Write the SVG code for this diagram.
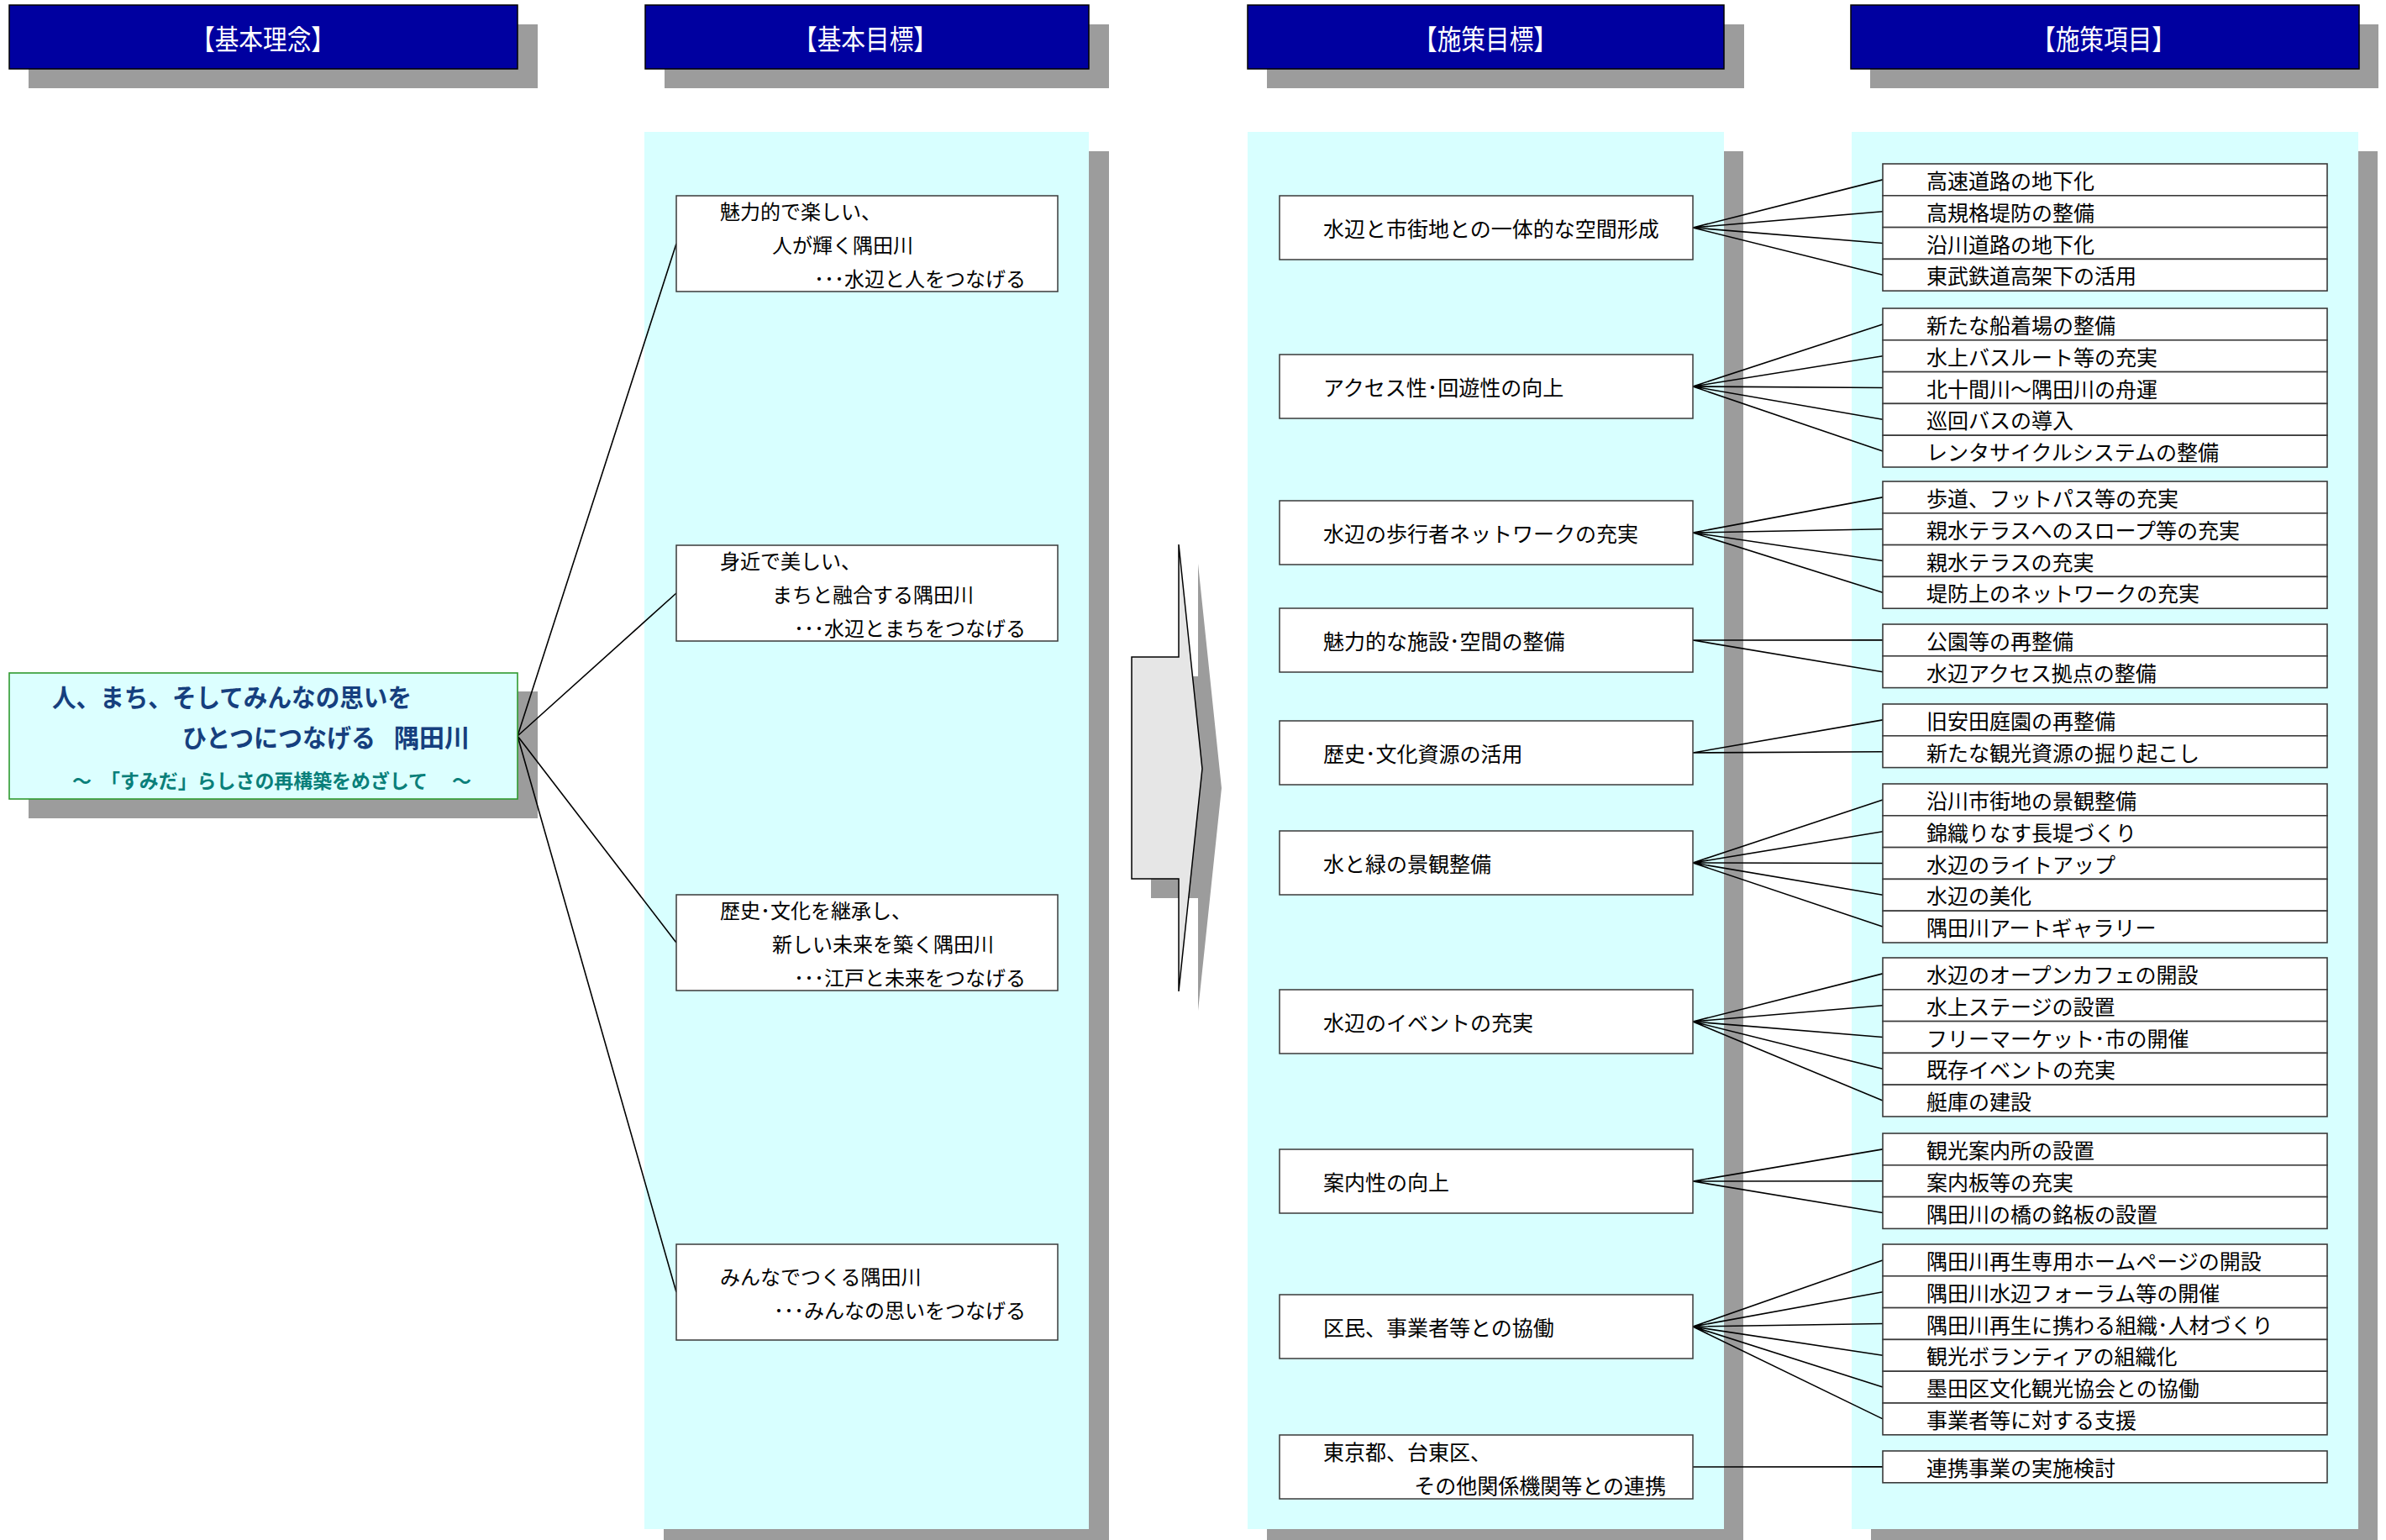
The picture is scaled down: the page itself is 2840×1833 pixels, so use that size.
<svg xmlns="http://www.w3.org/2000/svg" width="2840" height="1833" viewBox="0 0 2840 1833">
  <style>
    .shd { fill: #9c9c9c; }
    .panel { fill: #d8ffff; }
    .hdr { fill: #0000a0; stroke: #000; stroke-width: 1.5; }
    .box { fill: #fff; stroke: #3a3a3a; stroke-width: 1.5; }
    .row { fill: #fff; stroke: #3a3a3a; stroke-width: 1.6; }
    .link { stroke: #000; stroke-width: 1.6; fill: none; }
    .t { font-family: "Noto Sans CJK JP", "Noto Sans", sans-serif; font-size: 25px; fill: #000; dominant-baseline: central; }
    .g { font-size: 24px; }
    .ht { fill: #fff; font-size: 33px; text-anchor: middle; }
    .end { text-anchor: end; }
    .main { font-weight: bold; font-size: 30px; fill: #163f7e; }
    .sub { font-weight: bold; font-size: 23px; fill: #0a7f7a; }
  </style>

  <!-- drop shadows -->
  <g id="shadows">
    <rect class="shd" x="34" y="29" width="606" height="76"/>
    <rect class="shd" x="791" y="29" width="529" height="76"/>
    <rect class="shd" x="1508" y="29" width="568" height="76"/>
    <rect class="shd" x="2226" y="29" width="605" height="76"/>
    <rect class="shd" x="790" y="180" width="530" height="1653"/>
    <rect class="shd" x="1508" y="180" width="567" height="1653"/>
    <rect class="shd" x="2227" y="180" width="603" height="1653"/>
    <rect class="shd" x="34" y="823" width="606" height="151"/>
    <polygon class="shd" transform="translate(23,23)" points="1347,782 1403,782 1403,648 1431,915 1403,1180 1403,1046 1347,1046"/>
  </g>

  <!-- column panels -->
  <g id="panels">
    <rect class="panel" x="767" y="157" width="529" height="1663"/>
    <rect class="panel" x="1485" y="157" width="567" height="1663"/>
    <rect class="panel" x="2204" y="157" width="603" height="1663"/>
  </g>

  <!-- column headings -->
  <g id="header-rinen">
    <rect class="hdr" x="11" y="6" width="605" height="76"/>
    <text class="t ht" x="313" y="45" textLength="172" lengthAdjust="spacingAndGlyphs">【基本理念】</text>
  </g>
  <g id="header-mokuhyo">
    <rect class="hdr" x="768" y="6" width="528" height="76"/>
    <text class="t ht" x="1030" y="45" textLength="172" lengthAdjust="spacingAndGlyphs">【基本目標】</text>
  </g>
  <g id="header-shisaku-mokuhyo">
    <rect class="hdr" x="1485" y="6" width="567" height="76"/>
    <text class="t ht" x="1768" y="45" textLength="172" lengthAdjust="spacingAndGlyphs">【施策目標】</text>
  </g>
  <g id="header-shisaku-komoku">
    <rect class="hdr" x="2203" y="6" width="605" height="76"/>
    <text class="t ht" x="2504" y="45" textLength="172" lengthAdjust="spacingAndGlyphs">【施策項目】</text>
  </g>

  <!-- big transition arrow -->
  <g id="arrow">
    <polygon points="1347,782 1403,782 1403,648 1431,915 1403,1180 1403,1046 1347,1046" fill="#e6e6e6" stroke="#000" stroke-width="1.5"/>
  </g>

  <!-- connectors -->
  <g id="connectors" class="link">
    <path d="M616,876 L805,290 M616,876 L805,706 M616,876 L805,1122 M616,876 L805,1538"/>
    <path d="M2015,271 L2241,213.9 M2015,271 L2241,251.7 M2015,271 L2241,289.5 M2015,271 L2241,327.3"/>
    <path d="M2015,460 L2241,385.9 M2015,460 L2241,423.7 M2015,460 L2241,461.5 M2015,460 L2241,499.3 M2015,460 L2241,537.1"/>
    <path d="M2015,634 L2241,591.9 M2015,634 L2241,629.7 M2015,634 L2241,667.5 M2015,634 L2241,705.3"/>
    <path d="M2015,762 L2241,761.9 M2015,762 L2241,799.7"/>
    <path d="M2015,896 L2241,856.9 M2015,896 L2241,894.7"/>
    <path d="M2015,1027 L2241,951.9 M2015,1027 L2241,989.7 M2015,1027 L2241,1027.5 M2015,1027 L2241,1065.3 M2015,1027 L2241,1103.1"/>
    <path d="M2015,1216 L2241,1158.9 M2015,1216 L2241,1196.7 M2015,1216 L2241,1234.5 M2015,1216 L2241,1272.3 M2015,1216 L2241,1310.1"/>
    <path d="M2015,1406 L2241,1367.9 M2015,1406 L2241,1405.7 M2015,1406 L2241,1443.5"/>
    <path d="M2015,1579 L2241,1499.9 M2015,1579 L2241,1537.7 M2015,1579 L2241,1575.5 M2015,1579 L2241,1613.3 M2015,1579 L2241,1651.1 M2015,1579 L2241,1688.9"/>
    <path d="M2015,1746 L2241,1745.9"/>
  </g>

  <!-- basic philosophy -->
  <g id="rinen">
    <rect x="11" y="801" width="605" height="150" fill="#dcffff" stroke="#2f9a2f" stroke-width="1.6"/>
    <text class="t main" x="62" y="828" textLength="428" lengthAdjust="spacingAndGlyphs">人、まち、そしてみんなの思いを</text>
    <text class="t main" x="217" y="876" textLength="230" lengthAdjust="spacingAndGlyphs">ひとつにつなげる</text>
    <text class="t main" x="469" y="876">隅田川</text>
    <text class="t sub" x="86" y="928" font-size="20">～</text>
    <text class="t sub" x="120" y="928" textLength="389" lengthAdjust="spacingAndGlyphs">「すみだ」らしさの再構築をめざして</text>
    <text class="t sub" x="538" y="928" font-size="20">～</text>
  </g>

  <!-- basic goals -->
  <g id="goal-1">
    <rect class="box" x="805" y="233" width="454" height="114"/>
    <text class="t g" x="857" y="250">魅力的で楽しい、</text>
    <text class="t g" x="919" y="290">人が輝く隅田川</text>
    <text class="t g end" x="1221" y="330">･･･水辺と人をつなげる</text>
  </g>
  <g id="goal-2">
    <rect class="box" x="805" y="649" width="454" height="114"/>
    <text class="t g" x="857" y="666">身近で美しい、</text>
    <text class="t g" x="919" y="706">まちと融合する隅田川</text>
    <text class="t g end" x="1221" y="746">･･･水辺とまちをつなげる</text>
  </g>
  <g id="goal-3">
    <rect class="box" x="805" y="1065" width="454" height="114"/>
    <text class="t g" x="857" y="1082">歴史･文化を継承し、</text>
    <text class="t g" x="919" y="1122">新しい未来を築く隅田川</text>
    <text class="t g end" x="1221" y="1162">･･･江戸と未来をつなげる</text>
  </g>
  <g id="goal-4">
    <rect class="box" x="805" y="1481" width="454" height="114"/>
    <text class="t g" x="857" y="1518">みんなでつくる隅田川</text>
    <text class="t g end" x="1221" y="1558">･･･みんなの思いをつなげる</text>
  </g>

  <!-- policy targets -->
  <g id="target-1"><rect class="box" x="1523" y="233" width="492" height="76"/><text class="t" x="1575" y="271">水辺と市街地との一体的な空間形成</text></g>
  <g id="target-2"><rect class="box" x="1523" y="422" width="492" height="76"/><text class="t" x="1575" y="460">アクセス性･回遊性の向上</text></g>
  <g id="target-3"><rect class="box" x="1523" y="596" width="492" height="76"/><text class="t" x="1575" y="634">水辺の歩行者ネットワークの充実</text></g>
  <g id="target-4"><rect class="box" x="1523" y="724" width="492" height="76"/><text class="t" x="1575" y="762">魅力的な施設･空間の整備</text></g>
  <g id="target-5"><rect class="box" x="1523" y="858" width="492" height="76"/><text class="t" x="1575" y="896">歴史･文化資源の活用</text></g>
  <g id="target-6"><rect class="box" x="1523" y="989" width="492" height="76"/><text class="t" x="1575" y="1027">水と緑の景観整備</text></g>
  <g id="target-7"><rect class="box" x="1523" y="1178" width="492" height="76"/><text class="t" x="1575" y="1216">水辺のイベントの充実</text></g>
  <g id="target-8"><rect class="box" x="1523" y="1368" width="492" height="76"/><text class="t" x="1575" y="1406">案内性の向上</text></g>
  <g id="target-9"><rect class="box" x="1523" y="1541" width="492" height="76"/><text class="t" x="1575" y="1579">区民、事業者等との協働</text></g>
  <g id="target-10">
    <rect class="box" x="1523" y="1708" width="492" height="76"/>
    <text class="t" x="1575" y="1727">東京都、台東区、</text>
    <text class="t end" x="1983" y="1767">その他関係機関等との連携</text>
  </g>

  <!-- policy items -->
  <g id="items-1">
    <rect class="row" x="2241" y="195" width="529" height="37.8"/><text class="t" x="2293" y="213.9">高速道路の地下化</text>
    <rect class="row" x="2241" y="232.8" width="529" height="37.8"/><text class="t" x="2293" y="251.7">高規格堤防の整備</text>
    <rect class="row" x="2241" y="270.6" width="529" height="37.8"/><text class="t" x="2293" y="289.5">沿川道路の地下化</text>
    <rect class="row" x="2241" y="308.4" width="529" height="37.8"/><text class="t" x="2293" y="327.3">東武鉄道高架下の活用</text>
  </g>
  <g id="items-2">
    <rect class="row" x="2241" y="367" width="529" height="37.8"/><text class="t" x="2293" y="385.9">新たな船着場の整備</text>
    <rect class="row" x="2241" y="404.8" width="529" height="37.8"/><text class="t" x="2293" y="423.7">水上バスルート等の充実</text>
    <rect class="row" x="2241" y="442.6" width="529" height="37.8"/><text class="t" x="2293" y="461.5">北十間川～隅田川の舟運</text>
    <rect class="row" x="2241" y="480.4" width="529" height="37.8"/><text class="t" x="2293" y="499.3">巡回バスの導入</text>
    <rect class="row" x="2241" y="518.2" width="529" height="37.8"/><text class="t" x="2293" y="537.1">レンタサイクルシステムの整備</text>
  </g>
  <g id="items-3">
    <rect class="row" x="2241" y="573" width="529" height="37.8"/><text class="t" x="2293" y="591.9">歩道、フットパス等の充実</text>
    <rect class="row" x="2241" y="610.8" width="529" height="37.8"/><text class="t" x="2293" y="629.7">親水テラスへのスロープ等の充実</text>
    <rect class="row" x="2241" y="648.6" width="529" height="37.8"/><text class="t" x="2293" y="667.5">親水テラスの充実</text>
    <rect class="row" x="2241" y="686.4" width="529" height="37.8"/><text class="t" x="2293" y="705.3">堤防上のネットワークの充実</text>
  </g>
  <g id="items-4">
    <rect class="row" x="2241" y="743" width="529" height="37.8"/><text class="t" x="2293" y="761.9">公園等の再整備</text>
    <rect class="row" x="2241" y="780.8" width="529" height="37.8"/><text class="t" x="2293" y="799.7">水辺アクセス拠点の整備</text>
  </g>
  <g id="items-5">
    <rect class="row" x="2241" y="838" width="529" height="37.8"/><text class="t" x="2293" y="856.9">旧安田庭園の再整備</text>
    <rect class="row" x="2241" y="875.8" width="529" height="37.8"/><text class="t" x="2293" y="894.7">新たな観光資源の掘り起こし</text>
  </g>
  <g id="items-6">
    <rect class="row" x="2241" y="933" width="529" height="37.8"/><text class="t" x="2293" y="951.9">沿川市街地の景観整備</text>
    <rect class="row" x="2241" y="970.8" width="529" height="37.8"/><text class="t" x="2293" y="989.7">錦織りなす長堤づくり</text>
    <rect class="row" x="2241" y="1008.6" width="529" height="37.8"/><text class="t" x="2293" y="1027.5">水辺のライトアップ</text>
    <rect class="row" x="2241" y="1046.4" width="529" height="37.8"/><text class="t" x="2293" y="1065.3">水辺の美化</text>
    <rect class="row" x="2241" y="1084.2" width="529" height="37.8"/><text class="t" x="2293" y="1103.1">隅田川アートギャラリー</text>
  </g>
  <g id="items-7">
    <rect class="row" x="2241" y="1140" width="529" height="37.8"/><text class="t" x="2293" y="1158.9">水辺のオープンカフェの開設</text>
    <rect class="row" x="2241" y="1177.8" width="529" height="37.8"/><text class="t" x="2293" y="1196.7">水上ステージの設置</text>
    <rect class="row" x="2241" y="1215.6" width="529" height="37.8"/><text class="t" x="2293" y="1234.5">フリーマーケット･市の開催</text>
    <rect class="row" x="2241" y="1253.4" width="529" height="37.8"/><text class="t" x="2293" y="1272.3">既存イベントの充実</text>
    <rect class="row" x="2241" y="1291.2" width="529" height="37.8"/><text class="t" x="2293" y="1310.1">艇庫の建設</text>
  </g>
  <g id="items-8">
    <rect class="row" x="2241" y="1349" width="529" height="37.8"/><text class="t" x="2293" y="1367.9">観光案内所の設置</text>
    <rect class="row" x="2241" y="1386.8" width="529" height="37.8"/><text class="t" x="2293" y="1405.7">案内板等の充実</text>
    <rect class="row" x="2241" y="1424.6" width="529" height="37.8"/><text class="t" x="2293" y="1443.5">隅田川の橋の銘板の設置</text>
  </g>
  <g id="items-9">
    <rect class="row" x="2241" y="1481" width="529" height="37.8"/><text class="t" x="2293" y="1499.9">隅田川再生専用ホームページの開設</text>
    <rect class="row" x="2241" y="1518.8" width="529" height="37.8"/><text class="t" x="2293" y="1537.7">隅田川水辺フォーラム等の開催</text>
    <rect class="row" x="2241" y="1556.6" width="529" height="37.8"/><text class="t" x="2293" y="1575.5">隅田川再生に携わる組織･人材づくり</text>
    <rect class="row" x="2241" y="1594.4" width="529" height="37.8"/><text class="t" x="2293" y="1613.3">観光ボランティアの組織化</text>
    <rect class="row" x="2241" y="1632.2" width="529" height="37.8"/><text class="t" x="2293" y="1651.1">墨田区文化観光協会との協働</text>
    <rect class="row" x="2241" y="1670" width="529" height="37.8"/><text class="t" x="2293" y="1688.9">事業者等に対する支援</text>
  </g>
  <g id="items-10">
    <rect class="row" x="2241" y="1727" width="529" height="37.8"/><text class="t" x="2293" y="1745.9">連携事業の実施検討</text>
  </g>
</svg>
